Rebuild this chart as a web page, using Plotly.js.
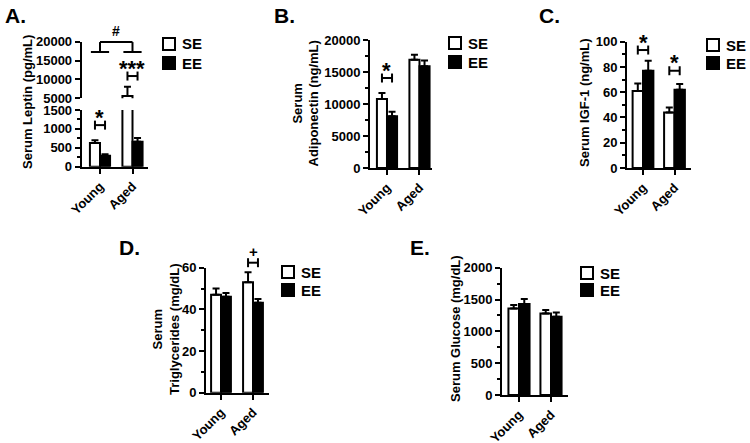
<!DOCTYPE html>
<html><head><meta charset="utf-8">
<script src="https://cdn.plot.ly/plotly-3.0.1.min.js"></script>
<style>html,body{margin:0;padding:0;background:#fff}</style>
</head><body>
<div id="chart" style="width:750px;height:443px"></div>
<script>
// ---------- data ----------
const categories = ['Young', 'Aged'];
const seriesNames = ['SE', 'EE'];

const leptinSE = [630, 5600];      const leptinSEerr = [70, 2450];
const leptinEE = [290, 660];       const leptinEEerr = [40, 100];
const leptinSigLevels = [1100, 10900];  const leptinSigMarks = ['*', '***'];
const leptinAgeLevels = [19900, 17270]; const leptinAgeMark = '#';

const adipoSE = [10800, 16900];    const adipoSEerr = [900, 800];
const adipoEE = [8100, 15900];     const adipoEEerr = [700, 900];
const adipoSigLevels = [14060, null]; const adipoSigMarks = ['*', ''];

const igfSE = [61, 44];            const igfSEerr = [6, 4];
const igfEE = [77, 62];            const igfEEerr = [8, 4.5];
const igfSigLevels = [93.4, 77];   const igfSigMarks = ['*', '*'];

const trigSE = [47, 53];           const trigSEerr = [3, 4.8];
const trigEE = [46, 43.2];         const trigEEerr = [1.8, 1.8];
const trigSigLevels = [null, 62.4]; const trigSigMarks = ['', '+'];

const glucSE = [1360, 1280];       const glucSEerr = [55, 55];
const glucEE = [1430, 1230];       const glucEEerr = [80, 65];

const panelLetters = ['A.', 'B.', 'C.', 'D.', 'E.'];
const yTitles = ['Serum Leptin (pg/mL)', 'Serum<br>Adiponectin (ng/mL)', 'Serum IGF-1 (ng/mL)',
                 'Serum<br>Triglycerides (mg/dL)', 'Serum Glucose (mg/dL)'];

// ---------- layout helpers ----------
const W = 750, H = 443;
const px = x => x / W;
const py = y => 1 - y / H;
const FONT = 'Liberation Sans, Arial, sans-serif';
const bold = (size) => ({family: FONT, size: size, color: '#000', weight: 700});

const panels = [
  {x: 'x', xpx: [81.7, 148], xr: [-0.563, 1.477], bw: 0.31,
   ys: [{name: 'y', px: [166.7, 110], r: [0, 1500], dtick: 500, minor: 250},
        {name: 'y2', px: [98.3, 41.7], r: [5000, 20000], dtick: 5000, minor: null}],
   series: [[leptinSE, leptinSEerr], [leptinEE, leptinEEerr]],
   sig: [leptinSigLevels, leptinSigMarks],
   letter: [3, 15], title: [27, 102], legend: [163, 44, 63]},
  {x: 'x2', xpx: [370, 432], xr: [-0.523, 1.385], bw: 0.31,
   ys: [{name: 'y3', px: [168, 40], r: [0, 20000], dtick: 5000, minor: 2500}],
   series: [[adipoSE, adipoSEerr], [adipoEE, adipoEEerr]],
   sig: [adipoSigLevels, adipoSigMarks],
   letter: [272, 15], title: [305.5, 104], legend: [449, 43, 62]},
  {x: 'x3', xpx: [627, 691], xr: [-0.508, 1.524], bw: 0.33,
   ys: [{name: 'y4', px: [168, 41.7], r: [0, 100], dtick: 20, minor: 10}],
   series: [[igfSE, igfSEerr], [igfEE, igfEEerr]],
   sig: [igfSigLevels, igfSigMarks],
   letter: [537, 15], title: [585, 103], legend: [707, 45, 63]},
  {x: 'x4', xpx: [206, 269], xr: [-0.469, 1.5], bw: 0.31,
   ys: [{name: 'y5', px: [392.7, 267.7], r: [0, 60], dtick: 20, minor: 10}],
   series: [[trigSE, trigSEerr], [trigEE, trigEEerr]],
   sig: [trigSigLevels, trigSigMarks],
   letter: [117, 247], title: [166, 330], legend: [282, 272, 290]},
  {x: 'x5', xpx: [502, 568], xr: [-0.531, 1.531], bw: 0.33,
   ys: [{name: 'y6', px: [395, 267.7], r: [0, 2000], dtick: 500, minor: 250}],
   series: [[glucSE, glucSEerr], [glucEE, glucEEerr]],
   sig: null,
   letter: [408, 247], title: [455, 329], legend: [581, 273, 290]}
];

const axName = a => a.replace(/^x$/, 'xaxis').replace(/^y$/, 'yaxis').replace(/^x(\d)/, 'xaxis$1').replace(/^y(\d)/, 'yaxis$1');
const fx = (p, c) => (c - p.xr[0]) / (p.xr[1] - p.xr[0]);
const fy = (ax, v) => (v - ax.r[0]) / (ax.r[1] - ax.r[0]);
const hpx = ax => ax.px[0] - ax.px[1];

const traces = [];
const layout = {
  width: W, height: H, margin: {l: 0, r: 0, t: 0, b: 0},
  paper_bgcolor: '#fff', plot_bgcolor: '#fff',
  barmode: 'overlay', showlegend: false,
  font: {family: FONT, color: '#000'},
  shapes: [], annotations: []
};

const line = (xref, yref, x0, y0, x1, y1) => ({type: 'line', xref, yref, x0, y0, x1, y1,
  line: {color: '#000', width: 2}});

panels.forEach((p, pi) => {
  layout[axName(p.x)] = {
    domain: [px(p.xpx[0]), px(p.xpx[1])], range: p.xr, anchor: p.ys[0].name,
    type: 'category', showline: true, linewidth: 2, linecolor: '#000',
    ticks: 'outside', ticklen: 5, tickwidth: 2, tickcolor: '#000', tickangle: -45,
    tickfont: bold(13), showgrid: false, zeroline: false, fixedrange: true
  };
  p.ys.forEach(ax => {
    const cfg = {
      domain: [py(ax.px[0]), py(ax.px[1])], range: ax.r, anchor: p.x,
      showline: true, linewidth: 2, linecolor: '#000',
      ticks: 'outside', ticklen: 5, tickwidth: 2, tickcolor: '#000',
      tickmode: 'linear', tick0: ax.r[0], dtick: ax.dtick, tickformat: 'd',
      tickfont: bold(13), showgrid: false, zeroline: false, fixedrange: true
    };
    if (ax.minor) cfg.minor = {dtick: ax.minor, ticks: 'outside', ticklen: 3, tickwidth: 2, tickcolor: '#000', showgrid: false};
    layout[axName(ax.name)] = cfg;

    p.series.forEach((s, si) => {
      traces.push({
        type: 'bar', name: seriesNames[si], x: categories, y: s[0],
        xaxis: p.x, yaxis: ax.name, width: p.bw, offset: si === 0 ? -p.bw : 0,
        marker: {color: si === 0 ? '#fff' : '#000', line: {color: '#000', width: 2}},
        error_y: {type: 'data', symmetric: false, array: s[1], arrayminus: s[1].map(() => 0),
                  color: '#000', thickness: 2, width: 3.5},
        hoverinfo: 'skip'
      });
    });
  });

  const xref = p.x + ' domain';
  // significance brackets between SE and EE within a group
  if (p.sig) {
    p.sig[0].forEach((lvl, ci) => {
      if (lvl === null) return;
      let ax = p.ys.find(a => lvl >= a.r[0] && lvl <= a.r[1]) || p.ys[p.ys.length - 1];
      const yref = ax.name + ' domain';
      const yv = fy(ax, lvl), cap = 4.5 / hpx(ax);
      const xa = fx(p, ci - p.bw / 2), xb = fx(p, ci + p.bw / 2);
      layout.shapes.push(line(xref, yref, xa, yv, xb, yv));
      layout.shapes.push(line(xref, yref, xa, yv - cap, xa, yv + cap));
      layout.shapes.push(line(xref, yref, xb, yv - cap, xb, yv + cap));
      const mark = p.sig[1][ci];
      const isStar = mark.indexOf('*') >= 0;
      layout.annotations.push({xref, yref, x: fx(p, ci), y: yv, text: mark, showarrow: false,
        xanchor: 'center', yanchor: 'middle', yshift: isStar ? 8 : 11,
        font: bold(isStar ? 22 : 15)});
    });
  }

  // panel letter
  layout.annotations.push({xref: 'paper', yref: 'paper', x: px(p.letter[0]), y: py(p.letter[1]),
    xanchor: 'left', yanchor: 'middle', text: panelLetters[pi], showarrow: false, font: bold(21)});
  // y-axis title
  layout.annotations.push({xref: 'paper', yref: 'paper', x: px(p.title[0]), y: py(p.title[1]),
    xanchor: 'center', yanchor: 'middle', textangle: -90, text: yTitles[pi], showarrow: false,
    font: bold(13)});
  // legend (per panel)
  seriesNames.forEach((nm, si) => {
    const cy = p.legend[1 + si], lx = p.legend[0];
    layout.shapes.push({type: 'rect', xref: 'paper', yref: 'paper',
      x0: px(lx), x1: px(lx + 12), y0: py(cy + 6), y1: py(cy - 6),
      fillcolor: si === 0 ? '#fff' : '#000', line: {color: '#000', width: 2}});
    layout.annotations.push({xref: 'paper', yref: 'paper', x: px(lx + 17), y: py(cy),
      xanchor: 'left', yanchor: 'middle', text: nm, showarrow: false, font: bold(15)});
  });
});

// group comparison bracket (#) on panel A
(function () {
  const p = panels[0], ax = p.ys[1];
  const xref = p.x + ' domain', yref = ax.name + ' domain';
  const top = fy(ax, leptinAgeLevels[0]), foot = fy(ax, leptinAgeLevels[1]);
  const half = 0.28;
  layout.shapes.push(line(xref, yref, fx(p, 0), top, fx(p, 1), top));
  layout.shapes.push(line(xref, yref, fx(p, 0), top, fx(p, 0), foot));
  layout.shapes.push(line(xref, yref, fx(p, 1), top, fx(p, 1), foot));
  layout.shapes.push(line(xref, yref, fx(p, -half), foot, fx(p, half), foot));
  layout.shapes.push(line(xref, yref, fx(p, 1 - half), foot, fx(p, 1 + half), foot));
  layout.annotations.push({xref, yref, x: fx(p, 0.5), y: top, text: leptinAgeMark, showarrow: false,
    xanchor: 'center', yanchor: 'middle', yshift: 11, font: bold(14)});
})();

Plotly.newPlot('chart', traces, layout, {staticPlot: true, displayModeBar: false});
</script>
</body></html>
